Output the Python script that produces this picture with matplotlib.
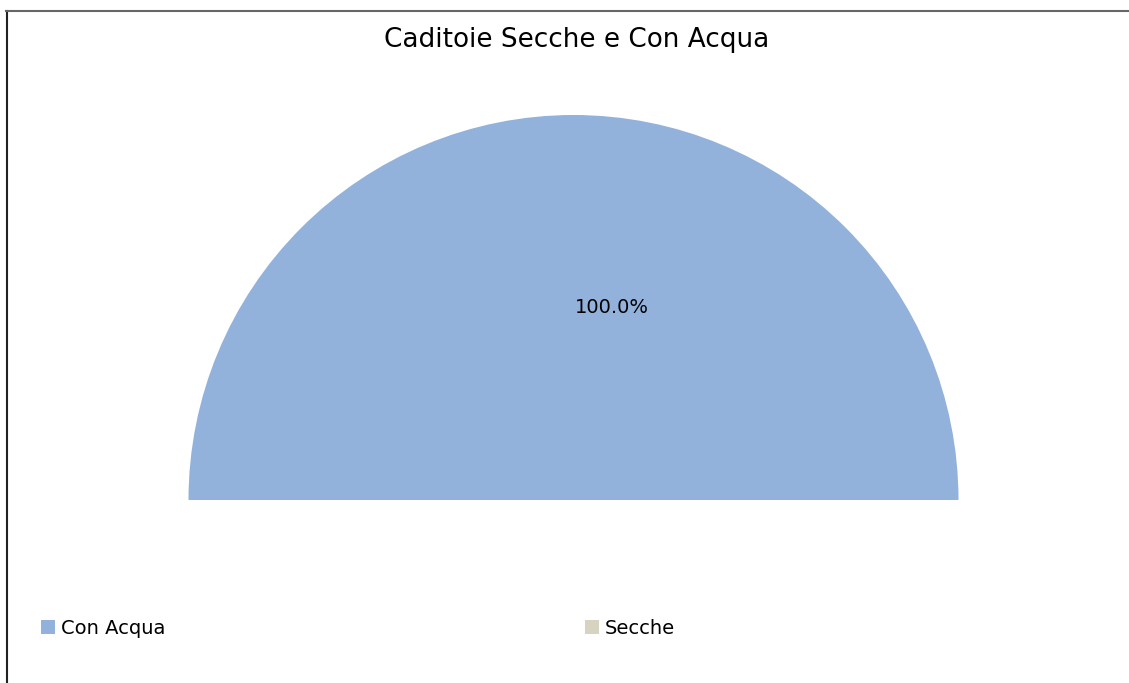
import matplotlib
matplotlib.use("Agg")
import numpy as np
import matplotlib.pyplot as plt
from matplotlib.lines import Line2D
from matplotlib.patches import Patch

# data
categories = ["Con Acqua", "Secche"]
values = [100.0, 0.0]
colors = ["#92b2dc", "#d6d4c0"]
title = "Caditoie Secche e Con Acqua"

W, H = 1129, 683
fig = plt.figure(figsize=(W / 100, H / 100), dpi=100)
ax = fig.add_axes([0, 0, 1, 1])

# half pie: the real slices take the upper half, a hidden slice the lower half
total = sum(values)
wedges, _ = ax.pie(values + [total], colors=colors + ["none"],
                   startangle=180, counterclock=False,
                   center=(573.5, H - 500), radius=385,
                   wedgeprops=dict(linewidth=0))
ax.set_xlim(0, W)
ax.set_ylim(0, H)
ax.set_aspect("equal")
ax.axis("off")

# percentage label
pct = values[0] / total * 100
ang = np.deg2rad(78.7)
ax.text(573.5 + 0.51 * 385 * np.cos(ang), H - 500 + 0.51 * 385 * np.sin(ang),
        f"{pct:.1f}%", ha="center", va="center", fontsize=14)

fig.text(576.5 / W, 1 - 40 / H, title, ha="center", va="center", fontsize=18.9)

# legend, two entries spread over the width
for i, x0 in enumerate([41, 585]):
    fig.legend(handles=[Patch(facecolor=colors[i], edgecolor="none")],
               labels=[categories[i]], loc="center left",
               bbox_to_anchor=(x0 / W, 1 - 628 / H), frameon=False,
               fontsize=14, handlelength=0.72, handleheight=0.72,
               handletextpad=0.3, borderpad=0, borderaxespad=0)

# frame lines (left and top only)
fig.add_artist(Line2D([6.5 / W, 6.5 / W], [0, 1 - 10.5 / H], color="#222222",
                      linewidth=1.5, transform=fig.transFigure))
fig.add_artist(Line2D([6 / W, 1], [1 - 10.5 / H, 1 - 10.5 / H], color="#666666",
                      linewidth=1.5, transform=fig.transFigure))

fig.savefig("out.png", dpi=100)
